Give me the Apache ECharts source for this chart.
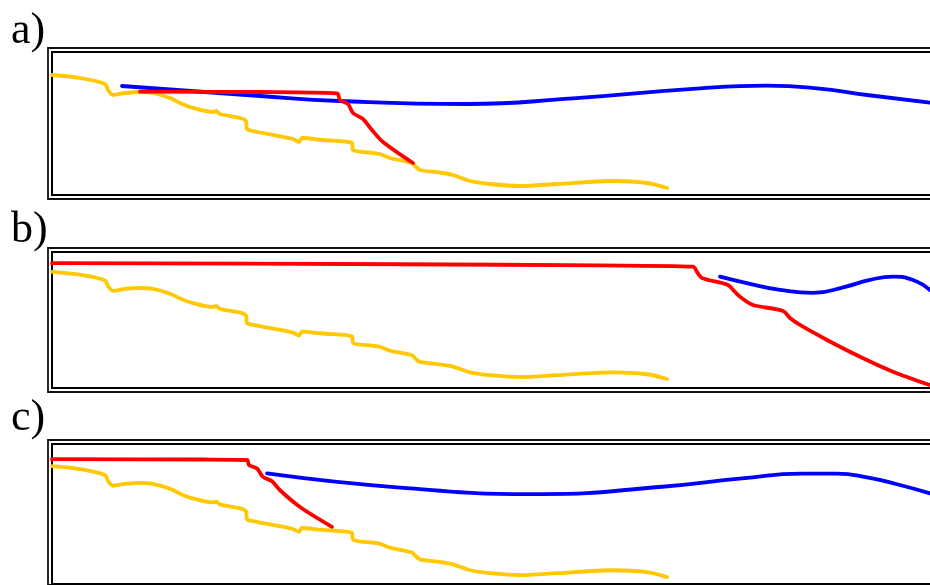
<!DOCTYPE html>
<html>
<head>
<meta charset="utf-8">
<script src="https://cdn.jsdelivr.net/npm/echarts@6/dist/echarts.min.js"></script>
<style>html,body{margin:0;padding:0;background:#fff;overflow:hidden}#c{width:1000px;height:585px}</style>
</head>
<body>
<div id="c"></div>
<script>
// Panel labels
const panelLabels = ['a)', 'b)', 'c)'];

// Yellow profile (same in all panels)
const yellowX = [0,28,53,56,61,73,88,101,118,128,138,161,164,168,188,194,195,201,241,247,250,271,300,301,321,328,338,360,363,368,388,401,418,438,468,505,561,595,615];
const yellowY = [120,117,111,105,100,102,103,102,97,92,88,83,84,81,77,74,66,64,56,53,57,55,52,45,42,41,37,32,29,25,22.5,20,14,11,9,11,14,12,7];

// Panel a
const redAX = [88,208,285,288,296,301,311,320,331,361];
const redAY = [103.3,103,101.7,95,91,82,76,65,53,32];
const blueAX = [70,208,288,415,521,648,715,765,815,878];
const blueAY = [109,99,94,91,96.7,106.7,109.3,106.7,100,92.3];

// Panel b
const redBX = [0,348,548,641,645,650,676,683,690,701,731,738,748,775,808,841,878];
const redBY = [129.2,128.1,126.8,125.5,119.9,113.6,106.2,98.8,92.2,85.1,78.8,71.4,64,48.2,30.5,14.7,0.6];
const blueBX = [668,698,728,761,793,818,841,861,878];
const blueBY = [115,107.4,101.1,97.8,104.2,111.6,115,111.5,100.9];

// Panel c
const redCX = [0,150,195,197,205,211,220,228,248,280];
const redCY = [127.2,126.7,126.2,121,117.6,109,104.6,95.4,78.4,58.2];
const blueCX = [215,348,489,610,690,750,785,815,845,878];
const blueCY = [112.6,98.2,91.5,99,107.5,112.4,112.3,108.5,101.5,92.3];

// y ranges per panel
const yRanges = [[0,143],[-2.5,141],[0,142.5]];

function pairs(xs, ys){ return xs.map((x,i)=>[x, ys[i]]); }

const panels = [
  {red: pairs(redAX, redAY), blue: pairs(blueAX, blueAY)},
  {red: pairs(redBX, redBY), blue: pairs(blueBX, blueBY)},
  {red: pairs(redCX, redCY), blue: pairs(blueCX, blueCY)}
];
const yellow = pairs(yellowX, yellowY);

// layout (inner frame, outer frame)
const inner = [{top:52,height:143},{top:252,height:136},{top:444,height:140}];
const outer = [{top:48,height:151},{top:248,height:144},{top:440,height:148}];
const labelTop = [9, 208, 396];

const grids = [], xAxes = [], yAxes = [], series = [], titles = [];
panels.forEach((p, i) => {
  // outer frame grid
  grids.push({left:48, top:outer[i].top, width:920, height:outer[i].height, show:true,
    borderColor:'#111', borderWidth:1.8, backgroundColor:'transparent'});
  xAxes.push({type:'value', gridIndex:grids.length-1, show:false, min:0, max:1});
  yAxes.push({type:'value', gridIndex:grids.length-1, show:false, min:0, max:1});
  // inner frame grid with data
  grids.push({left:52, top:inner[i].top, width:900, height:inner[i].height, show:true,
    borderColor:'#000', borderWidth:2, backgroundColor:'transparent'});
  const gi = grids.length-1;
  xAxes.push({type:'value', gridIndex:gi, show:false, min:0, max:900});
  yAxes.push({type:'value', gridIndex:gi, show:false, min:yRanges[i][0], max:yRanges[i][1]});
  const common = {type:'line', xAxisIndex:gi, yAxisIndex:gi, showSymbol:false, symbol:'none', clip:true};
  series.push(Object.assign({}, common, {data:yellow, smooth:0.3, z:2,
    lineStyle:{color:'#FFC800', width:3.8, cap:'round', join:'round'}}));
  series.push(Object.assign({}, common, {data:p.blue, smooth:0.5, z:3,
    lineStyle:{color:'#0000FF', width:3.8, cap:'round', join:'round'}}));
  series.push(Object.assign({}, common, {data:p.red, smooth:0.3, z:4,
    lineStyle:{color:'#FF0000', width:3.8, cap:'round', join:'round'}}));
  titles.push({text:panelLabels[i], left:11, top:labelTop[i], padding:0,
    textStyle:{fontFamily:'Liberation Serif', fontSize:44, fontWeight:'normal', color:'#000'}});
});

const chart = echarts.init(document.getElementById('c'), null, {renderer:'canvas'});
chart.setOption({animation:false, backgroundColor:'#fff', title:titles, grid:grids,
  xAxis:xAxes, yAxis:yAxes, series:series});
</script>
</body>
</html>
